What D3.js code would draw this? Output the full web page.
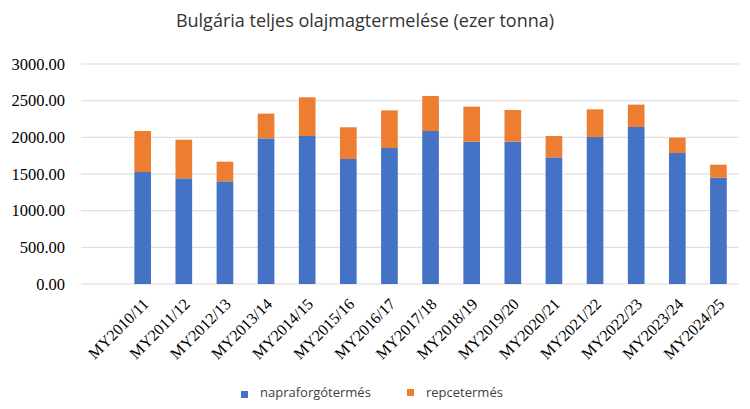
<!DOCTYPE html>
<html>
<head>
<meta charset="utf-8">
<script src="https://cdn.jsdelivr.net/npm/d3@7"></script>
<style>
  body { margin: 0; background: #fff; }
</style>
</head>
<body>
<script>
// marketing years, first slot is an empty category like in the source sheet
const years = ["", "MY2010/11", "MY2011/12", "MY2012/13", "MY2013/14", "MY2014/15", "MY2015/16",
    "MY2016/17", "MY2017/18", "MY2018/19", "MY2019/20", "MY2020/21", "MY2021/22",
    "MY2022/23", "MY2023/24", "MY2024/25"];
const napraforgo = [0, 1527, 1441, 1400, 1986, 2018, 1705, 1855, 2086, 1941, 1941, 1727, 2005, 2141, 1786, 1450];
const repce = [0, 559, 527, 268, 337, 528, 432, 513, 478, 477, 432, 291, 377, 305, 210, 177];
const yTicks = [0, 500, 1000, 1500, 2000, 2500, 3000];
const seriesNames = ["napraforgótermés", "repcetermés"];
const colors = ["#4472C4", "#ED7D31"];

const serif = "'Liberation Serif', 'Times New Roman', serif";
const sans = "'Open Sans', 'Noto Sans', sans-serif";

const W = 750, H = 409;
const m = {top: 64, bottom: 125, left: 81, right: 11};
const w = W - m.left - m.right;
const h = H - m.top - m.bottom;

const svg = d3.select("body")
    .append("svg")
    .attr("width", W)
    .attr("height", H);

const g = svg.append("g")
    .attr("transform", `translate(${m.left}, ${m.top})`);

const rows = years.map((y, i) => ({year: y, nap: napraforgo[i], rep: repce[i]}));
const stacked = d3.stack().keys(["nap", "rep"])(rows);

const x = d3.scaleBand()
    .domain(years.map((d, i) => i))
    .range([0, w])
    .paddingInner(0.595)
    .paddingOuter(0.2975);

const y = d3.scaleLinear()
    .domain([0, 3000])
    .range([h, 0]);

// grid
g.append("g")
    .selectAll("line")
    .data(yTicks)
    .enter()
    .append("line")
    .attr("x1", 0)
    .attr("x2", w)
    .attr("y1", d => y(d))
    .attr("y2", d => y(d))
    .attr("stroke", "#d9d9d9")
    .attr("stroke-width", 1);

// y axis labels
const yAxis = d3.axisLeft(y).tickValues(yTicks).tickFormat(d3.format(".2f")).tickSize(0).tickPadding(16);
g.append("g")
    .call(yAxis)
    .call(s => s.select(".domain").remove())
    .selectAll("text")
    .style("font-family", serif)
    .style("font-size", "16.5px")
    .attr("fill", "#000");

// bars
g.selectAll(".series")
    .data(stacked)
    .enter()
    .append("g")
    .attr("fill", (d, i) => colors[i])
    .selectAll("rect")
    .data(d => d.filter((v, i) => i > 0).map(v => ({v, i: years.indexOf(v.data.year)})))
    .enter()
    .append("rect")
    .attr("x", d => x(d.i))
    .attr("width", x.bandwidth())
    .attr("y", d => y(d.v[1]))
    .attr("height", d => y(d.v[0]) - y(d.v[1]));

// x labels, rotated
const xAxis = d3.axisBottom(x).tickSize(0).tickFormat(i => years[i]);
g.append("g")
    .attr("transform", `translate(0, ${h})`)
    .call(xAxis)
    .call(s => s.select(".domain").remove())
    .selectAll("text")
    .style("font-family", serif)
    .style("font-size", "16px")
    .attr("fill", "#000")
    .attr("text-anchor", "end")
    .attr("dy", null)
    .attr("y", 0)
    .attr("transform", "translate(7, 21) rotate(-45)");

// title
svg.append("text")
    .attr("x", 365)
    .attr("y", 27)
    .attr("text-anchor", "middle")
    .style("font-family", sans)
    .style("font-size", "18px")
    .attr("fill", "#333")
    .text("Bulgária teljes olajmagtermelése (ezer tonna)");

// legend
const legendX = [241, 407];
const leg = svg.append("g");
seriesNames.forEach((name, i) => {
    leg.append("rect")
        .attr("x", legendX[i])
        .attr("y", i === 0 ? 391 : 389)
        .attr("width", 7)
        .attr("height", 7)
        .attr("fill", colors[i]);
    leg.append("text")
        .attr("x", legendX[i] + 19)
        .attr("y", 397)
        .style("font-family", sans)
        .style("font-size", "13px")
        .attr("fill", "#404040")
        .text(name);
});
</script>
</body>
</html>
